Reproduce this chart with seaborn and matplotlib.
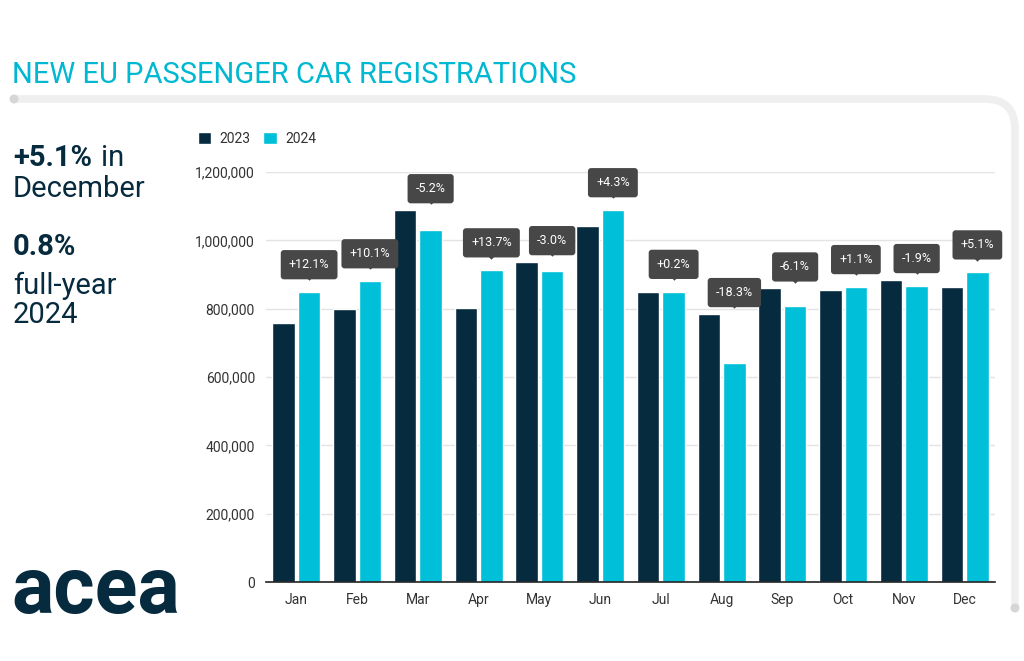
import matplotlib
matplotlib.use("Agg")
import matplotlib.pyplot as plt
import seaborn as sns
import pandas as pd
from matplotlib.path import Path
from matplotlib.patches import PathPatch, Circle
import matplotlib.transforms as mtransforms
from matplotlib.ticker import FuncFormatter

# ---------------- data ----------------
months = ["Jan", "Feb", "Mar", "Apr", "May", "Jun", "Jul", "Aug", "Sep", "Oct", "Nov", "Dec"]
reg_2023 = [758000, 799000, 1089000, 802000, 937000, 1042000, 849000, 785000, 860000, 855000, 884000, 863000]
reg_2024 = [849000, 881000, 1030000, 913000, 910000, 1089000, 850000, 641000, 808000, 864000, 867000, 907000]
change_labels = ["+12.1%", "+10.1%", "-5.2%", "+13.7%", "-3.0%", "+4.3%",
                 "+0.2%", "-18.3%", "-6.1%", "+1.1%", "-1.9%", "+5.1%"]
years = ["2023", "2024"]
y_ticks = [0, 200000, 400000, 600000, 800000, 1000000, 1200000]

df = pd.DataFrame({
    "month": months * 2,
    "value": reg_2023 + reg_2024,
    "year": [years[0]] * 12 + [years[1]] * 12,
})

# ---------------- style ----------------
DARK = "#062a3e"
CYAN = "#00bfd8"
TITLE_CYAN = "#00b8d2"
GREY_BOX = "#474747"

sns.set_theme(style="white")
plt.rcParams["font.family"] = ["Roboto", "DejaVu Sans"]

W, H = 1024, 661
fig = plt.figure(figsize=(W / 100, H / 100), dpi=100)
fig.patch.set_facecolor("white")

def fx(px):
    return px / W

def fy(py):
    return 1 - py / H

ax = fig.add_axes([fx(266), fy(582), fx(995) - fx(266), fy(172) - fy(582)])

sns.barplot(data=df, x="month", y="value", hue="year", palette=[DARK, CYAN],
            saturation=1, width=0.84, gap=0.12, ax=ax, errorbar=None, order=months,
            hue_order=years)

ax.set_ylim(0, 1200000)
ax.set_xlim(-0.5, 11.5)
ax.set_yticks(y_ticks)
ax.yaxis.set_major_formatter(FuncFormatter(lambda v, p: f"{int(v):,}"))
ax.set_xlabel("")
ax.set_ylabel("")
ax.grid(axis="y", color="#e3e3e3", lw=1)
ax.set_axisbelow(True)
for s in ["top", "right", "left"]:
    ax.spines[s].set_visible(False)
ax.spines["bottom"].set_color("#222222")
ax.spines["bottom"].set_linewidth(1.2)
ax.tick_params(axis="both", length=0, labelsize=10, colors="#333333")
ax.tick_params(axis="x", pad=8)
ax.tick_params(axis="y", pad=8)

# change annotations above each month
tri = [(-1, 0), (1, 0), (0, -1), (-1, 0)]
for i, lab in enumerate(change_labels):
    xc = i + 0.84 / 4
    y_c = ax.transData.transform((0, reg_2024[i]))[1]
    y_d = ax.transData.transform((0, reg_2023[i]))[1]
    tip_px = max(y_c + 11, y_d + 5)
    tip = ax.transData.inverted().transform((0, tip_px))[1]
    ax.annotate(lab, xy=(xc, tip), xytext=(0, 7), textcoords="offset points",
                ha="center", va="bottom", color="white", fontsize=9,
                bbox=dict(boxstyle="round,pad=0.65,rounding_size=0.25", fc=GREY_BOX, ec="none"),
                annotation_clip=False, zorder=5)
    tr = mtransforms.offset_copy(ax.transData, fig=fig, y=5.5, units="dots")
    ax.plot([xc], [tip], marker=tri, ms=7.5, color=GREY_BOX, transform=tr,
            clip_on=False, zorder=5, mew=0, ls="none")

sns.move_legend(ax, "upper left", bbox_to_anchor=(fx(192), fy(126)),
                bbox_transform=fig.transFigure, ncol=2, frameon=False, title=None,
                fontsize=10, handlelength=1.0, handleheight=1.0, columnspacing=0.9,
                handletextpad=0.6, borderaxespad=0)
for t in ax.get_legend().get_texts():
    t.set_color("#333333")

# ---------------- decorations ----------------
pix = mtransforms.Affine2D().scale(1 / W, -1 / H).translate(0, 1) + fig.transFigure
verts = [(14, 99), (985, 99), (1015, 99), (1015, 129), (1015, 608)]
codes = [Path.MOVETO, Path.LINETO, Path.CURVE3, Path.CURVE3, Path.LINETO]
fig.add_artist(PathPatch(Path(verts, codes), fill=False, ec="#efefef", lw=5.5,
                         capstyle="round", transform=pix, zorder=0))
fig.add_artist(Circle((14, 99), 4.5, fc="#d6d6d6", ec="none", transform=pix, zorder=1))
fig.add_artist(Circle((1015, 608), 4.5, fc="#d6d6d6", ec="none", transform=pix, zorder=1))

# title
fig.text(fx(12), fy(83), "NEW EU PASSENGER CAR REGISTRATIONS",
         fontsize=21, color=TITLE_CYAN, ha="left", va="baseline")

# left key figures
fig.text(fx(13), fy(166), "+5.1%", fontsize=21, weight="bold", color=DARK, va="baseline")
fig.text(fx(101), fy(166), "in", fontsize=21, color=DARK, va="baseline")
fig.text(fx(13), fy(197), "December", fontsize=21, color=DARK, va="baseline")
fig.text(fx(13), fy(255), "0.8%", fontsize=21, weight="bold", color=DARK, va="baseline")
fig.text(fx(13), fy(294), "full-year", fontsize=21, color=DARK, va="baseline")
fig.text(fx(13), fy(323), "2024", fontsize=21, color=DARK, va="baseline")

# logo text
fig.text(fx(11), fy(613), "acea", fontsize=57, weight="bold", color=DARK, va="baseline")

fig.savefig("out.png", dpi=100, facecolor="white")
